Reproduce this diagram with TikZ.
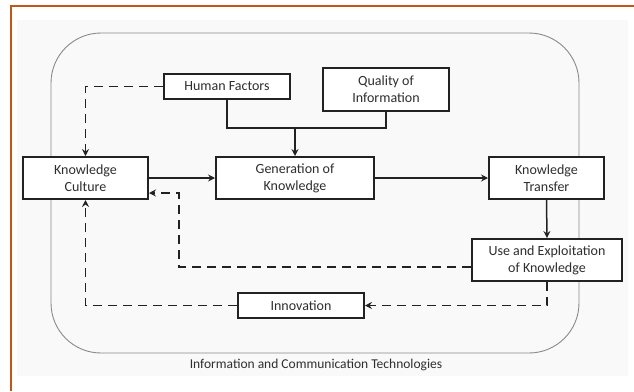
\documentclass[tikz,border=0pt]{standalone}
\usepackage{fontspec}
\setmainfont{Carlito}
\usetikzlibrary{arrows.meta,positioning}
\definecolor{orangeline}{HTML}{C0561A}
\definecolor{bgfill}{HTML}{F9F9F9}
\definecolor{ink}{HTML}{222222}
\definecolor{txt}{HTML}{2E2E2E}
\definecolor{frame}{HTML}{8A8A8A}
\tikzset{
  boxnode/.style={draw=ink, line width=2pt, fill=white, text=txt, align=center,
    inner sep=0pt, font=\fontsize{14}{17}\selectfont},
  conn/.style={draw=ink, line width=1.5pt},
  arr/.style={conn, -{Stealth[length=7pt,width=7pt,inset=2.5pt]}},
  darr/.style={arr, dash pattern=on 9pt off 6pt},
  dline/.style={conn, dash pattern=on 9pt off 6pt},
}
\begin{document}
\begin{tikzpicture}[x=1pt,y=-1pt]
\useasboundingbox (0,0) rectangle (634,391);
\fill[bgfill] (17,20) rectangle (628,376);
\draw[orangeline, line width=1.8pt] (11,391) -- (11,6) -- (634,6);
\draw[frame, line width=0.9pt, rounded corners=50pt] (51,33) rectangle (579,353);

\node[boxnode, minimum width=125pt, minimum height=42pt] (kc) at (85.5,178) {Knowledge\\Culture};
\node[boxnode, minimum width=126pt, minimum height=25pt] (hf) at (227,86.5) {Human Factors};
\node[boxnode, minimum width=158pt, minimum height=42pt] (gk) at (295,178) {Generation of\\Knowledge};
\node[boxnode, minimum width=126pt, minimum height=43pt] (qi) at (386,89.5) {Quality of\\Information};
\node[boxnode, minimum width=115pt, minimum height=42pt] (kt) at (546.5,178) {Knowledge\\Transfer};
\node[boxnode, minimum width=150pt, minimum height=42pt] (ue) at (547,260) {Use and Exploitation\\of Knowledge};
\node[boxnode, minimum width=126pt, minimum height=25pt] (inn) at (301,305.5) {Innovation};
\node[text=txt, font=\fontsize{13.5}{16}\selectfont] (ict) at (316,365) {Information and Communication Technologies};

\coordinate (j) at (295,128);
\coordinate (d1) at (179,267);

\draw[darr] (hf.west) -| (kc.north);
\draw[conn] (hf.south) |- (j) -| (qi.south);
\draw[arr] (j) -- (gk.north);
\draw[arr] (kc.east) -- (gk.west);
\draw[arr] (gk.east) -- (kt.west);
\draw[arr] (kt.south) -- (ue.north);
\draw[darr] ([yshift=-7pt]ue.west) -- (d1) |- ([yshift=-15pt]kc.east);
\draw[darr] (ue.south) |- (inn.east);
\draw[darr] (inn.west) -| (kc.south);
\end{tikzpicture}
\end{document}
